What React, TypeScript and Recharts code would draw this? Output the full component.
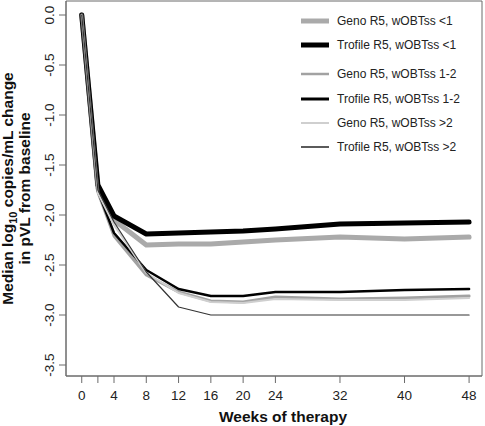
import React from 'react';
import { LineChart, Line, XAxis, YAxis, ReferenceArea, Legend } from 'recharts';

const weeks = [0, 2, 4, 8, 12, 16, 20, 24, 32, 40, 48];
const genoLt1 = [0, -1.73, -2.05, -2.3, -2.29, -2.29, -2.27, -2.25, -2.22, -2.24, -2.22];
const trofileLt1 = [0, -1.7, -2.01, -2.19, -2.18, -2.17, -2.16, -2.14, -2.09, -2.08, -2.07];
const geno12 = [0, -1.77, -2.21, -2.6, -2.77, -2.86, -2.87, -2.82, -2.84, -2.83, -2.81];
const trofile12 = [0, -1.76, -2.18, -2.55, -2.74, -2.81, -2.81, -2.77, -2.77, -2.75, -2.74];
const genoGt2 = [0, -1.78, -2.1, -2.58, -2.78, -2.87, -2.88, -2.84, -2.85, -2.85, -2.83];
const trofileGt2 = [0, -1.75, -2.07, -2.57, -2.92, -3.0, -3.0, -3.0, -3.0, -3.0, -3.0];

const seriesNames = [
  'Geno R5, wOBTss <1',
  'Trofile R5, wOBTss <1',
  'Geno R5, wOBTss 1-2',
  'Trofile R5, wOBTss 1-2',
  'Geno R5, wOBTss >2',
  'Trofile R5, wOBTss >2',
];
const seriesValues = [genoLt1, trofileLt1, geno12, trofile12, genoGt2, trofileGt2];

const xTicks = [0, 2, 4, 8, 12, 16, 20, 24, 32, 40, 48];
const xTickLabels = ['0', '', '4', '8', '12', '16', '20', '24', '32', '40', '48'];
const yTicks = [0, -0.5, -1, -1.5, -2, -2.5, -3, -3.5];
const yTickLabels = ['0.0', '-0.5', '-1.0', '-1.5', '-2.0', '-2.5', '-3.0', '-3.5'];

const xTitle = 'Weeks of therapy';
const yTitleA = 'Median log';
const yTitleSub = '10';
const yTitleB = ' copies/mL change';
const yTitle2 = 'in pVL from baseline';

// styles
const seriesStyles = [
  { color: '#aaaaaa', width: 5, legendWidth: 5 },
  { color: '#000000', width: 5, legendWidth: 5 },
  { color: '#a2a2a2', width: 3, legendWidth: 2.5 },
  { color: '#000000', width: 2.5, legendWidth: 3 },
  { color: '#cfcfcf', width: 2, legendWidth: 2 },
  { color: '#333333', width: 1.2, legendWidth: 1.6 },
];
const legendRowY = [21, 45, 74, 99, 123, 147];

const FONT = '"Liberation Sans", Arial, Helvetica, sans-serif';
const AXIS = '#6a6a6a';

const data = weeks.map((w, i) => {
  const row: any = { week: w };
  seriesValues.forEach((s, k) => {
    row['s' + k] = s[i];
  });
  return row;
});

const XTick = (props: any) => {
  const { x, y, payload } = props;
  const idx = xTicks.indexOf(payload.value);
  const label = idx >= 0 ? xTickLabels[idx] : String(payload.value);
  return (
    <text x={x} y={y + 17} textAnchor="middle" fontFamily={FONT} fontSize={13.5} fill="#222">
      {label}
    </text>
  );
};

const YTick = (props: any) => {
  const { x, y, payload } = props;
  const idx = yTicks.findIndex((t) => Math.abs(t - payload.value) < 1e-9);
  const label = idx >= 0 ? yTickLabels[idx] : String(payload.value);
  const bx = x - 5.5;
  return (
    <text
      x={bx}
      y={y}
      transform={`rotate(-90 ${bx} ${y})`}
      textAnchor="middle"
      fontFamily={FONT}
      fontSize={13.5}
      fill="#222"
    >
      {label}
    </text>
  );
};

const XTitle = () => (
  <text x={283} y={422} textAnchor="middle" fontFamily={FONT} fontSize={15.5} fontWeight="bold" fill="#111">
    {xTitle}
  </text>
);

const YTitle = () => (
  <g fontFamily={FONT} fontWeight="bold" fill="#111">
    <text x={13} y={188.5} transform="rotate(-90 13 188.5)" textAnchor="middle" fontSize={15.5}>
      {yTitleA}
      <tspan fontSize={11} dy={4}>{yTitleSub}</tspan>
      <tspan dy={-4}>{yTitleB}</tspan>
    </text>
    <text x={30} y={188.5} transform="rotate(-90 30 188.5)" textAnchor="middle" fontSize={15.5}>
      {yTitle2}
    </text>
  </g>
);

const LegendContent = () => (
  <div style={{ position: 'relative', width: 485, height: 170, fontFamily: FONT }}>
    {seriesNames.map((name, i) => (
      <div
        key={name}
        style={{ position: 'absolute', left: 0, top: legendRowY[i] - 10, height: 20, width: 485 }}
      >
        <svg width={485} height={20} style={{ position: 'absolute', left: 0, top: 0 }}>
          <line
            x1={301}
            x2={329}
            y1={10}
            y2={10}
            stroke={seriesStyles[i].color}
            strokeWidth={seriesStyles[i].legendWidth}
          />
          <text x={337} y={14.3} fontFamily={FONT} fontSize={12} fill="#222">
            {name}
          </text>
        </svg>
      </div>
    ))}
  </div>
);

export default function App() {
  return (
    <div style={{ position: 'absolute', left: 0, top: 0, width: 485, height: 426, background: '#fff' }}>
      <LineChart width={485} height={426} data={data} margin={{ top: 1, right: 3, bottom: 0, left: 0 }}>
        <XAxis
          type="number"
          dataKey="week"
          domain={[-1.95, 49.6]}
          allowDataOverflow
          ticks={xTicks}
          interval={0}
          tickSize={7}
          tickMargin={0}
          height={50}
          stroke={AXIS}
          tickLine={{ stroke: AXIS }}
          tick={<XTick />}
          label={{ content: () => <XTitle /> }}
        />
        <YAxis
          type="number"
          domain={[-3.61, 0.14]}
          allowDataOverflow
          ticks={yTicks}
          interval={0}
          tickSize={7}
          tickMargin={0}
          width={66}
          stroke={AXIS}
          tickLine={{ stroke: AXIS }}
          tick={<YTick />}
          label={{ content: () => <YTitle /> }}
        />
        <ReferenceArea x1={-1.95} x2={49.6} y1={-3.61} y2={0.14} fill="none" stroke={AXIS} strokeWidth={1} />
        {seriesNames.map((name, i) => (
          <Line
            key={name}
            type="linear"
            dataKey={'s' + i}
            name={name}
            stroke={seriesStyles[i].color}
            strokeWidth={seriesStyles[i].width}
            dot={false}
            activeDot={false}
            strokeLinejoin="round"
            strokeLinecap="round"
            isAnimationActive={false}
          />
        ))}
        <Legend
          layout="vertical"
          align="center"
          verticalAlign="middle"
          wrapperStyle={{ left: 0, top: 0, width: 485, height: 170 }}
          content={() => <LegendContent />}
        />
      </LineChart>
    </div>
  );
}
